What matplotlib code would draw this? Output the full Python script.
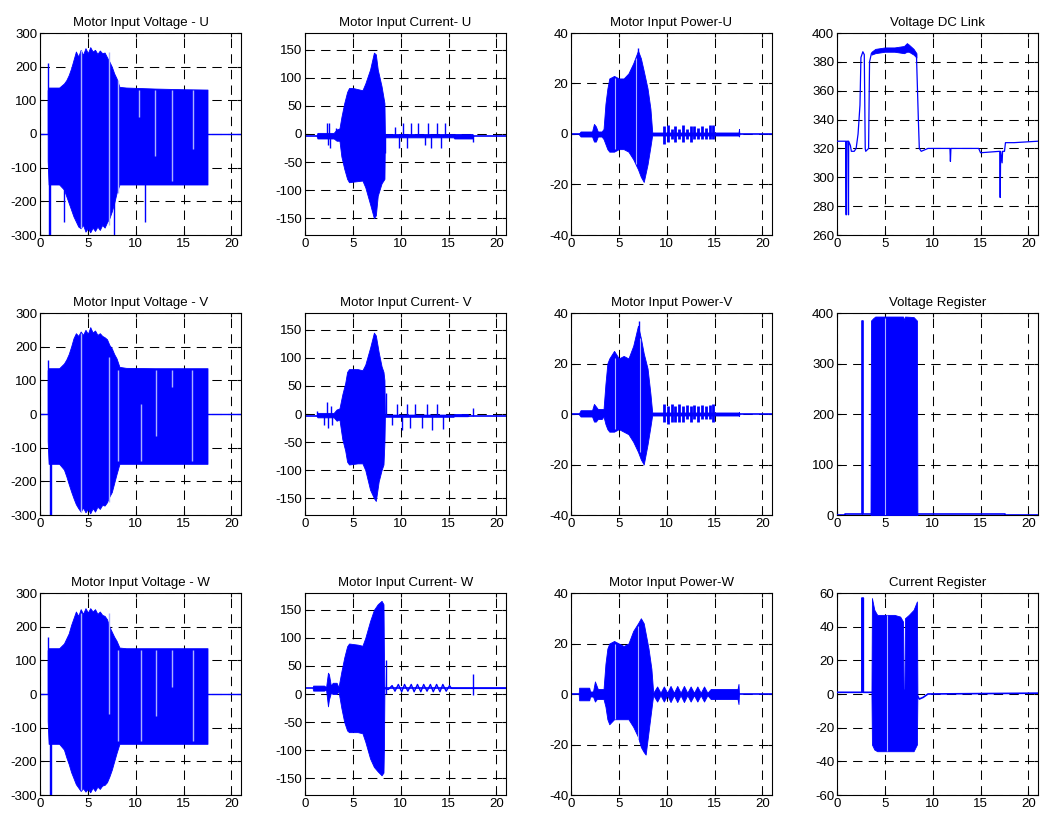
import matplotlib
matplotlib.use("Agg")
import matplotlib.pyplot as plt

plt.rcParams["font.family"] = ["Liberation Sans", "DejaVu Sans"]
plt.rcParams["axes.unicode_minus"] = False

BLUE = "#0000ff"
GAP = "#aab0ff"

# ---------------- Motor input voltage (envelopes) ----------------
volt_t = [0.8, 0.9, 2.0, 2.5, 2.75, 3.0, 3.25, 3.5, 3.75, 4.0, 4.25, 4.5, 4.75, 5.0, 5.25, 5.5,
          5.75, 6.0, 6.25, 6.5, 6.75, 7.0, 7.25, 7.5, 7.75, 8.0, 8.3, 9.0, 12.0, 15.0, 17.5]

vu_hi = [130, 138, 138, 150, 160, 175, 195, 220, 245, 230, 250, 235, 255, 240, 258, 245,
         250, 238, 248, 240, 242, 228, 215, 200, 180, 165, 140, 138, 135, 133, 132]
vu_lo = [-80, -150, -150, -165, -185, -205, -225, -245, -260, -275, -280, -270, -290, -280, -292, -278,
         -288, -275, -285, -270, -278, -262, -250, -230, -205, -175, -150, -150, -150, -150, -150]
vu_spk_t = [0.85, 0.95, 1.05, 2.5, 7.7, 11.0]
vu_spk_y = [210, -300, -300, -260, -300, -260]
vu_gap_t = [4.3, 7.2, 8.2, 10.3, 12.0, 13.8, 16.0]
vu_gap_lo = [-280, -270, -175, 50, -65, -140, -45]
vu_gap_hi = [250, 245, 160, 130, 130, 130, 130]

vv_hi = [130, 136, 136, 150, 162, 178, 200, 225, 240, 232, 245, 235, 250, 238, 258, 242,
         248, 235, 240, 232, 228, 222, 205, 195, 178, 165, 140, 137, 136, 136, 136]
vv_lo = [-80, -148, -148, -165, -185, -208, -230, -250, -268, -280, -290, -278, -292, -282, -295, -280,
         -290, -275, -282, -270, -272, -262, -245, -232, -205, -178, -148, -148, -148, -148, -148]
vv_spk_t = [0.85, 1.05, 1.1]
vv_spk_y = [160, -300, -300]
vv_gap_t = [4.3, 7.2, 8.2, 10.6, 12.1, 13.8, 15.9]
vv_gap_lo = [-290, -260, -140, -140, -65, 80, -140]
vv_gap_hi = [240, 170, 130, 30, 130, 130, 130]

vw_hi = [130, 136, 136, 150, 165, 180, 205, 225, 245, 232, 252, 238, 255, 242, 255, 245,
         252, 238, 245, 235, 232, 222, 200, 185, 170, 158, 138, 136, 136, 136, 136]
vw_lo = [-80, -148, -148, -165, -188, -208, -232, -250, -268, -278, -288, -280, -290, -282, -292, -278,
         -288, -275, -282, -272, -270, -262, -245, -225, -200, -175, -148, -148, -148, -148, -148]
vw_spk_t = [0.85, 1.0, 1.1]
vw_spk_y = [170, -300, -300]
vw_gap_t = [4.3, 7.2, 8.2, 10.5, 12.1, 13.8, 16.0]
vw_gap_lo = [-285, -60, -140, -140, -65, 20, -140]
vw_gap_hi = [240, 240, 130, 130, 130, 130, 130]

# ---------------- Motor input current ----------------
cu_base = -3
cu_t = [1.2, 1.3, 3.0, 3.3, 3.6, 3.8, 4.1, 4.4, 4.6, 5.0, 5.5, 6.0, 6.3, 6.8, 7.2, 7.4, 7.6, 8.0, 8.3, 8.35]
cu_hi = [-3, 2, 2, 8, 10, 30, 55, 75, 82, 82, 80, 78, 90, 115, 145, 142, 115, 85, 55, -3]
cu_lo = [-3, -8, -8, -12, -12, -40, -62, -80, -86, -85, -84, -83, -95, -125, -150, -145, -110, -88, -80, -3]
cu_spk_t = [2.3, 2.4, 2.55, 2.6, 3.2, 8.4, 9.4, 9.8, 10.2, 10.7, 11.1, 11.8, 12.5, 12.9, 13.2, 13.75, 14.2, 14.6, 17.55]
cu_spk_y = [20, -20, 20, -25, 10, -33, 12, -25, 20, -25, 20, 20, -20, 20, -25, 20, -25, 20, -15]
cu_tail_t = [8.35, 15.5, 15.6, 17.5, 17.6]
cu_tail_hi = [0, 0, 0, 0, -3]
cu_tail_lo = [-6, -6, -8, -8, -3]

cv_base = -3
cv_t = [1.2, 1.3, 3.0, 3.3, 3.6, 3.9, 4.2, 4.4, 4.6, 5.5, 6.0, 6.3, 6.8, 7.2, 7.4, 7.7, 8.0, 8.2, 8.3, 8.35]
cv_hi = [-3, 2, 2, 8, 10, 35, 55, 75, 80, 80, 78, 88, 118, 145, 140, 110, 85, 75, 60, -3]
cv_lo = [-3, -6, -6, -12, -10, -45, -65, -85, -90, -88, -88, -100, -135, -150, -155, -120, -100, -90, -50, -3]
cv_spk_t = [1.3, 2.0, 2.35, 2.45, 2.75, 2.8, 8.5, 9.1, 9.6, 10.1, 10.65, 11.0, 11.5, 12.2, 12.75, 13.25, 13.75, 14.45, 17.55]
cv_spk_y = [5, -20, 22, -25, 15, -20, 38, -20, 18, -28, 17, -25, 17, -25, 18, -28, 18, -27, 10]
cv_tail_t = [8.35, 15.5, 15.6, 17.0, 17.1]
cv_tail_hi = [-1, -1, 0, 0, -3]
cv_tail_lo = [-5, -5, -4, -4, -3]

cw_base = 10
cw_t = [0.8, 0.85, 2.0, 2.2, 2.4, 2.5, 2.7, 2.9, 3.3, 3.5, 3.8, 4.1, 4.4, 4.6, 5.5, 6.0, 6.3, 6.8, 7.2, 7.6, 8.0, 8.2, 8.25, 8.3]
cw_hi = [10, 15, 15, 12, 38, 35, 15, 20, 20, 12, 40, 65, 85, 90, 88, 86, 100, 130, 150, 160, 166, 160, 60, 10]
cw_lo = [10, 6, 6, 8, -22, -10, 2, 0, 0, 5, -25, -50, -65, -68, -68, -70, -85, -115, -130, -138, -145, -140, -90, 10]
cw_spk_t = [8.45, 8.5, 17.5, 17.55]
cw_spk_y = [60, 0, 35, -2]
cw_rip_t = [8.3, 8.7, 9.1, 9.4, 9.75, 10.1, 10.4, 10.75, 11.1, 11.4, 11.75, 12.1, 12.4, 12.75,
            13.1, 13.4, 13.75, 14.1, 14.4, 14.75, 15.1, 15.3, 21.0]
cw_rip_y = [10, 8, 15, 5, 17, 4, 17, 5, 17, 4, 17, 4, 17, 5, 17, 4, 17, 4, 17, 5, 15, 10, 10]

# ---------------- Motor input power ----------------
pow_t = [0.8, 1.0, 2.2, 2.4, 2.6, 2.8, 3.2, 3.4, 3.6, 3.8, 4.0, 4.5, 5.0, 5.5, 6.0, 6.5, 7.0, 7.3, 7.6, 8.0, 8.3, 8.5]
pu_hi = [0, 1, 1, 4, 3, 1, 1, 2, 12, 18, 22, 23, 22, 22, 24, 28, 33, 30, 25, 18, 10, 0]
pu_lo = [0, -1, -1, -3, -3, -1, -1, -2, -4, -6, -7, -7, -6, -6, -7, -10, -14, -17, -19, -12, -5, 0]
pv_hi = [0, 1.5, 1.5, 4, 3, 2, 2, 2, 12, 20, 22, 25, 22, 23, 22, 27, 35, 30, 24, 18, 8, 0]
pv_lo = [0, -1, -1, -3, -3, -2, -2, -1, -4, -6, -7, -7, -6, -7, -8, -11, -15, -18, -20, -12, -5, 0]
pu_spk_t = [7.0]
pu_spk_y = [34]
pv_spk_t = [7.1]
pv_spk_y = [37]

pwr_burst_t = [9.7, 10.1, 10.5, 10.9, 11.3, 11.7, 12.1, 12.5, 12.9, 13.3, 13.7, 14.1, 14.5, 14.8]
pu_burst_hi = [3, 3.5, 2, 3, 2, 3.5, 2, 3, 3, 2.5, 3, 2.5, 3.5, 3.5]
pu_burst_lo = [-4, -3, -2, -3, -2, -3, -2, -3, -2, -2, -2, -2, -2, -2]
pv_burst_hi = [4, 3, 4, 3, 4, 3, 3.5, 3, 3.5, 3, 3.5, 3, 3.5, 4]
pv_burst_lo = [-3, -4, -3, -3, -3, -3, -2, -3, -2, -3, -2, -2, -2, -3]
pwr_tail_t = [8.5, 17.5, 17.55, 17.6]
pu_tail_hi = [0.6, 0.6, 2, 0]
pu_tail_lo = [-0.6, -0.6, -1, 0]
pv_tail_hi = [0.6, 0.6, 0.8, 0]
pv_tail_lo = [-0.6, -0.6, -0.8, 0]

pw_t = [0.8, 0.85, 1.9, 2.0, 2.3, 2.5, 2.7, 2.8, 3.2, 3.4, 3.6, 3.8, 4.0, 4.5, 5.0, 5.5, 6.0, 6.5, 7.0, 7.3, 7.6, 7.8, 8.1, 8.4, 8.6]
pw_hi = [0, 2.5, 2.5, 1, 1, 5, 3, 2, 2, 2, 12, 18, 20, 21, 20, 19, 20, 25, 28, 30, 28, 24, 18, 10, 0]
pw_lo = [0, -2.5, -2.5, -1, -1, -3, -2, -2, -2, -2, -5, -10, -12, -10, -10, -10, -10, -13, -17, -21, -23, -24, -15, -6, 0]
pw_dia_t = [8.6, 9.0, 9.35, 9.7, 10.05, 10.4, 10.75, 11.1, 11.45, 11.8, 12.15, 12.5, 12.85,
            13.2, 13.55, 13.9, 14.25, 14.6, 17.4, 17.5, 17.55]
pw_dia_hi = [0.5, 3, 0.5, 3, 0.5, 3.2, 0.5, 3.2, 0.5, 3.2, 0.5, 3, 0.5, 3, 0.5, 3, 0.5, 2, 2, 4, 0]
pw_dia_lo = [-0.5, -3, -0.5, -3, -0.5, -3.2, -0.5, -3.2, -0.5, -3.2, -0.5, -3, -0.5, -3, -0.5, -3, -0.5, -2, -2, -4, 0]

# ---------------- Voltage DC link ----------------
dc_t = [0, 0.9, 0.95, 0.97, 1.0, 1.15, 1.2, 1.22, 1.4, 1.5, 1.8, 2.0, 2.2, 2.4, 2.5, 2.7, 2.85, 2.95,
        3.0, 3.3, 3.4, 3.6, 4.0, 5.0, 6.0, 7.0, 7.5, 8.0, 8.3, 8.5, 8.6, 8.8, 9.5, 11.8, 11.85, 11.9,
        14.8, 15.0, 17.0, 17.05, 17.1, 17.25, 17.3, 17.5, 17.6, 18.5, 21.0]
dc_v = [325, 325, 274, 274, 325, 325, 274, 325, 322, 318, 318, 320, 330, 350, 383, 387, 385, 320,
        318, 320, 380, 386, 387, 388, 388, 389, 390, 387, 385, 340, 320, 318, 320, 320, 311, 320,
        320, 317, 318, 286, 318, 310, 318, 318, 324, 324, 325]
dc_band_t = [3.6, 4.0, 5.0, 6.0, 7.0, 7.3, 7.5, 8.0, 8.3]
dc_band_hi = [387, 389, 390, 390, 391, 393, 392, 389, 386]
dc_band_lo = [385, 386, 387, 387, 386, 387, 387, 385, 383]

# ---------------- Voltage register ----------------
vr_line_t = [0, 0.8, 0.8, 2.6, 2.6, 2.7, 2.7, 3.5, 8.4, 8.4, 17.6, 17.6, 21.0]
vr_line_v = [0, 0, 2, 2, 385, 385, 2, 2, 2, 2, 2, 0, 0]
vr_t = [3.5, 3.55, 3.8, 4.0, 6.9, 7.0, 7.1, 8.0, 8.35, 8.4]
vr_hi = [0, 385, 390, 393, 393, 386, 393, 392, 385, 0]
vr_gap_t = [5.0]

# ---------------- Current register ----------------
cr_line_t = [0, 2.6, 2.6, 2.75, 2.75, 3.6, 8.4, 8.6, 9.0, 9.5, 21.0]
cr_line_v = [1, 1, 57, 57, 1, 1, -1, -3, -2, 0, 0.5]
cr_t = [3.6, 3.65, 3.9, 4.2, 5.0, 6.0, 6.6, 6.9, 6.95, 7.05, 7.1, 7.5, 8.0, 8.35, 8.4]
cr_hi = [0, 57, 50, 47, 47, 47, 46, 43, 3, 3, 45, 47, 50, 55, 0]
cr_lo = [0, -30, -33, -34, -34, -34, -34, -34, -34, -34, -34, -34, -34, -30, 0]
cr_gap_t = [5.25]


def style(ax, ylim, step, title):
    ax.set_xlim(0, 21)
    ax.set_xticks([0, 5, 10, 15, 20])
    ax.set_ylim(*ylim)
    ticks = list(range(ylim[0], ylim[1] + 1, step))
    if ylim[0] == -180:
        ticks = list(range(-150, 151, 50))
    ax.set_yticks(ticks)
    ax.grid(True, color="black", linestyle=(0, (9, 6)), linewidth=0.75)
    ax.set_axisbelow(True)
    ax.tick_params(direction="in", top=True, right=True, length=3, labelsize=9.5, pad=2)
    for s in ax.spines.values():
        s.set_linewidth(0.8)
    ax.set_title(title, fontsize=9.5, pad=5)


def block(ax, t, hi, lo):
    ax.fill_between(t, lo, hi, color=BLUE, edgecolor=BLUE, linewidth=0.6, zorder=3)


def voltage_panel(ax, title, hi, lo, spk_t, spk_y, gap_t, gap_lo, gap_hi):
    ax.plot([0, 21], [0, 0], color=BLUE, lw=1, zorder=2)
    block(ax, volt_t, hi, lo)
    ax.vlines(spk_t, 0, spk_y, color=BLUE, lw=1, zorder=3)
    ax.vlines(gap_t, gap_lo, gap_hi, color=GAP, lw=1, zorder=4)
    style(ax, (-300, 300), 100, title)


def current_panel(ax, title, base, t, hi, lo, spk_t, spk_y):
    ax.plot([0, 21], [base, base], color=BLUE, lw=1.2, zorder=2)
    block(ax, t, hi, lo)
    ax.vlines(spk_t, base, spk_y, color=BLUE, lw=1, zorder=3)
    style(ax, (-180, 180), 50, title)


def power_panel(ax, title, t, hi, lo):
    ax.plot([0, 21], [0, 0], color=BLUE, lw=1.2, zorder=2)
    block(ax, t, hi, lo)
    style(ax, (-40, 40), 20, title)


fig = plt.figure(figsize=(10.45, 8.3), dpi=100)
lefts = [40, 305, 571, 837]
bottoms = [235, 515, 795]
axes = [[fig.add_axes([l / 1045, 1 - b / 830, 201 / 1045, 202 / 830]) for l in lefts] for b in bottoms]

# column 1: voltages
voltage_panel(axes[0][0], "Motor Input Voltage - U", vu_hi, vu_lo, vu_spk_t, vu_spk_y, vu_gap_t, vu_gap_lo, vu_gap_hi)
voltage_panel(axes[1][0], "Motor Input Voltage - V", vv_hi, vv_lo, vv_spk_t, vv_spk_y, vv_gap_t, vv_gap_lo, vv_gap_hi)
voltage_panel(axes[2][0], "Motor Input Voltage - W", vw_hi, vw_lo, vw_spk_t, vw_spk_y, vw_gap_t, vw_gap_lo, vw_gap_hi)

# column 2: currents
ax = axes[0][1]
current_panel(ax, "Motor Input Current- U", cu_base, cu_t, cu_hi, cu_lo, cu_spk_t, cu_spk_y)
block(ax, cu_tail_t, cu_tail_hi, cu_tail_lo)
ax = axes[1][1]
current_panel(ax, "Motor Input Current- V", cv_base, cv_t, cv_hi, cv_lo, cv_spk_t, cv_spk_y)
block(ax, cv_tail_t, cv_tail_hi, cv_tail_lo)
ax = axes[2][1]
current_panel(ax, "Motor Input Current- W", cw_base, cw_t, cw_hi, cw_lo, cw_spk_t, cw_spk_y)
ax.plot(cw_rip_t, cw_rip_y, color=BLUE, lw=1, zorder=3)

# column 3: powers
ax = axes[0][2]
power_panel(ax, "Motor Input Power-U", pow_t, pu_hi, pu_lo)
ax.vlines(pu_spk_t, 0, pu_spk_y, color=BLUE, lw=1, zorder=3)
ax.vlines(pwr_burst_t, pu_burst_lo, pu_burst_hi, color=BLUE, lw=2, zorder=3)
block(ax, pwr_tail_t, pu_tail_hi, pu_tail_lo)
ax.vlines([4.6, 6.8], [-6, -12], [22, 30], color=GAP, lw=0.8, zorder=4)
ax = axes[1][2]
power_panel(ax, "Motor Input Power-V", pow_t, pv_hi, pv_lo)
ax.vlines(pv_spk_t, 0, pv_spk_y, color=BLUE, lw=1, zorder=3)
ax.vlines(pwr_burst_t, pv_burst_lo, pv_burst_hi, color=BLUE, lw=2, zorder=3)
block(ax, pwr_tail_t, pv_tail_hi, pv_tail_lo)
ax.vlines([4.6, 7.2], [-6, -15], [22, 30], color=GAP, lw=0.8, zorder=4)
ax = axes[2][2]
power_panel(ax, "Motor Input Power-W", pw_t, pw_hi, pw_lo)
block(ax, pw_dia_t, pw_dia_hi, pw_dia_lo)
ax.vlines([4.6, 7.0], [-10, -18], [20, 27], color=GAP, lw=0.8, zorder=4)

# column 4: DC link and registers
ax = axes[0][3]
ax.plot(dc_t, dc_v, color=BLUE, lw=0.9, zorder=3)
ax.fill_between(dc_band_t, dc_band_lo, dc_band_hi, color=BLUE, lw=0.6, zorder=3)
style(ax, (260, 400), 20, "Voltage DC Link")

ax = axes[1][3]
ax.plot(vr_line_t, vr_line_v, color=BLUE, lw=1.2, zorder=3)
ax.fill_between(vr_t, 0, vr_hi, color=BLUE, edgecolor=BLUE, lw=0.6, zorder=3)
ax.vlines(vr_gap_t, 0, 390, color=GAP, lw=0.8, zorder=4)
style(ax, (0, 400), 100, "Voltage Register")

ax = axes[2][3]
ax.plot(cr_line_t, cr_line_v, color=BLUE, lw=1.2, zorder=3)
block(ax, cr_t, cr_hi, cr_lo)
ax.vlines(cr_gap_t, -34, 47, color=GAP, lw=0.8, zorder=4)
style(ax, (-60, 60), 20, "Current Register")

fig.savefig("out.png", dpi=100)
